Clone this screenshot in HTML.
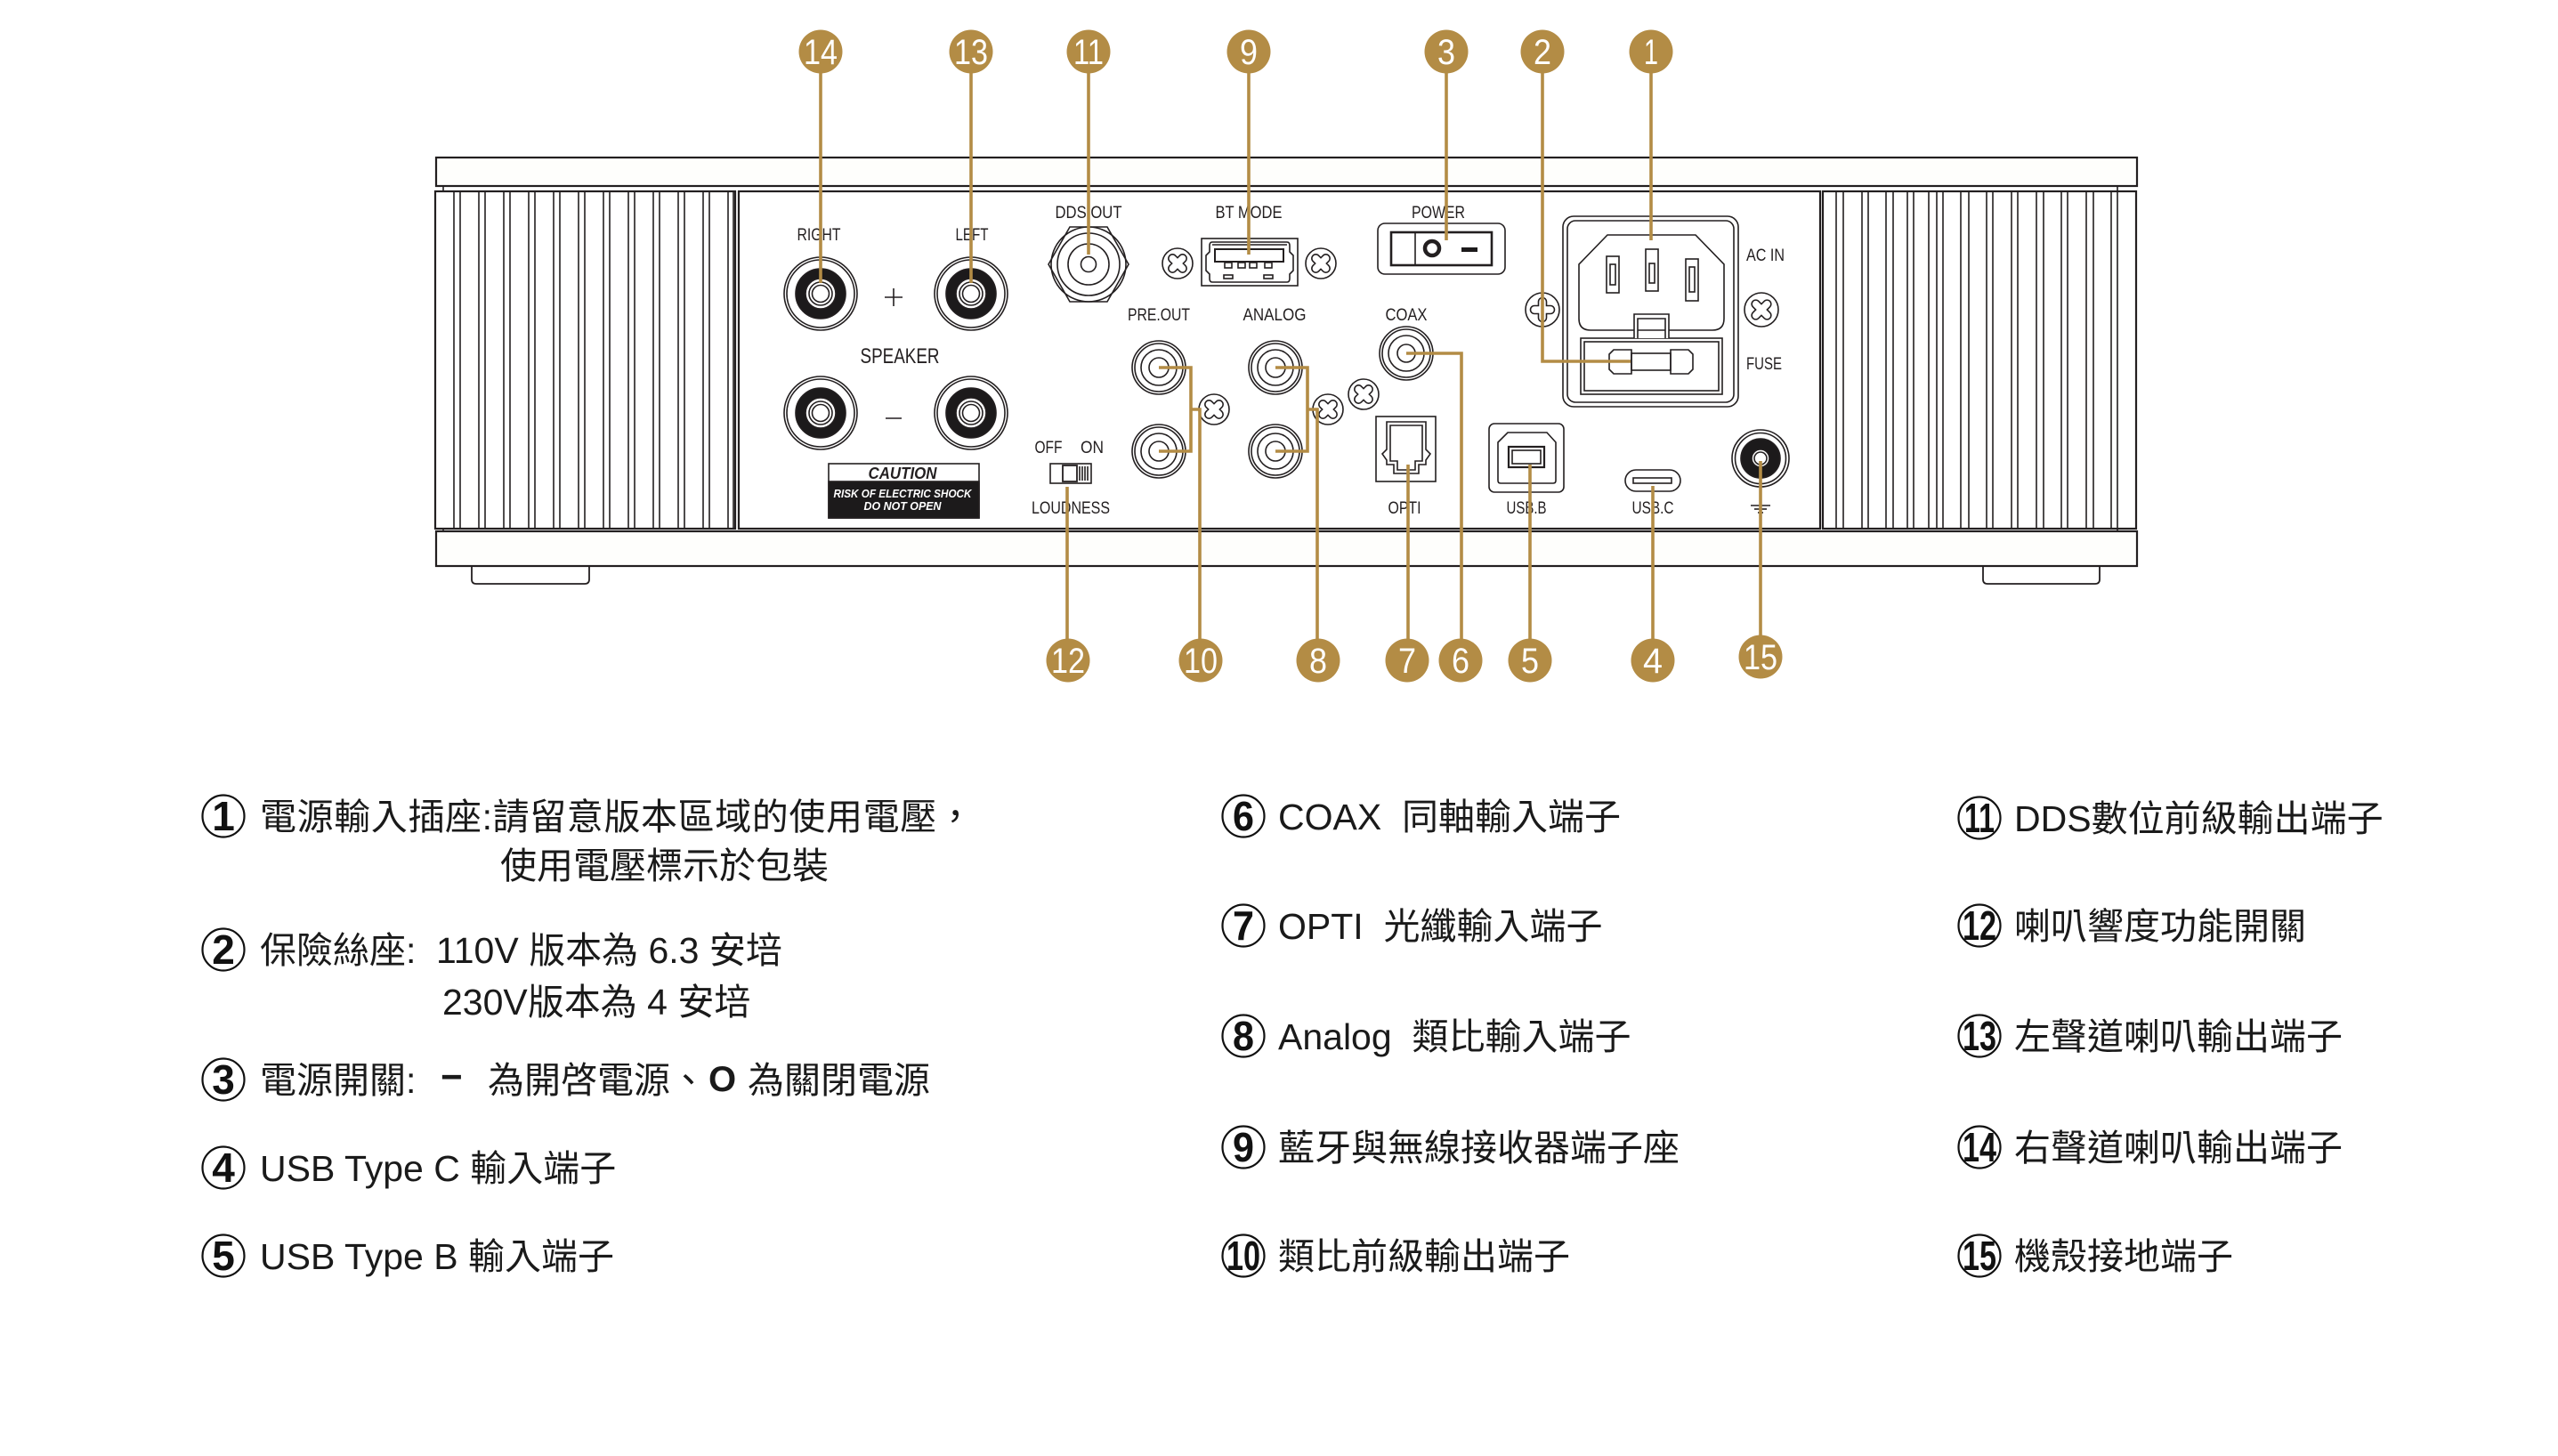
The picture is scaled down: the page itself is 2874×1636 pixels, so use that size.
<!DOCTYPE html>
<html><head><meta charset="utf-8"><style>
html,body{margin:0;padding:0;background:#fff;}
svg{display:block;}
.pl{font-family:"Liberation Sans",sans-serif;fill:#231f20;font-size:19px;text-anchor:middle;}
.lg{font-family:"Liberation Sans","Noto Sans CJK TC",sans-serif;fill:#1a1a1a;font-size:41px;white-space:pre;}
.bd{font-family:"Liberation Sans",sans-serif;fill:#fff;font-size:40px;text-anchor:middle;}
.cn{font-family:"Liberation Sans",sans-serif;fill:#111;font-size:46px;font-weight:bold;text-anchor:middle;}
</style></head><body>
<svg width="2874" height="1636" viewBox="0 0 2874 1636" xmlns="http://www.w3.org/2000/svg">
<rect width="2874" height="1636" fill="#fff"/>
<!-- cabinet -->
<g fill="#fefefc" stroke="#231f20" stroke-width="2.2">
<rect x="490" y="177" width="1911" height="32"/>
<rect x="490" y="597" width="1911" height="39"/>
<path d="M530,636 L530,651 Q530,656 535,656 L657,656 Q662,656 662,651 L662,636" fill="none" stroke-width="1.8"/>
<path d="M2228,636 L2228,651 Q2228,656 2233,656 L2354,656 Q2359,656 2359,651 L2359,636" fill="none" stroke-width="1.8"/>
<rect x="489" y="215" width="337" height="379" fill="#fff"/>
<rect x="830" y="215" width="1215" height="379" fill="#fff"/>
<rect x="2048" y="215" width="352" height="379" fill="#fff"/>
</g>
<g stroke="#231f20" stroke-width="1.6">
<line x1="498" y1="209" x2="498" y2="215"/><line x1="498" y1="594" x2="498" y2="597"/>
<line x1="2379" y1="209" x2="2379" y2="597"/>
<!-- left fins -->
<line x1="510" y1="215" x2="510" y2="594"/><line x1="517" y1="215" x2="517" y2="594"/>
<line x1="538" y1="215" x2="538" y2="594"/><line x1="545" y1="215" x2="545" y2="594"/>
<line x1="566" y1="215" x2="566" y2="594"/><line x1="573" y1="215" x2="573" y2="594"/>
<line x1="594" y1="215" x2="594" y2="594"/><line x1="601" y1="215" x2="601" y2="594"/>
<line x1="622" y1="215" x2="622" y2="594"/><line x1="629" y1="215" x2="629" y2="594"/>
<line x1="650" y1="215" x2="650" y2="594"/><line x1="657" y1="215" x2="657" y2="594"/>
<line x1="678" y1="215" x2="678" y2="594"/><line x1="685" y1="215" x2="685" y2="594"/>
<line x1="706" y1="215" x2="706" y2="594"/><line x1="713" y1="215" x2="713" y2="594"/>
<line x1="734" y1="215" x2="734" y2="594"/><line x1="741" y1="215" x2="741" y2="594"/>
<line x1="762" y1="215" x2="762" y2="594"/><line x1="769" y1="215" x2="769" y2="594"/>
<line x1="790" y1="215" x2="790" y2="594"/><line x1="797" y1="215" x2="797" y2="594"/>
<line x1="818" y1="215" x2="818" y2="594"/><line x1="824" y1="215" x2="824" y2="594"/>
<!-- right fins -->
<line x1="2063" y1="215" x2="2063" y2="594"/><line x1="2071" y1="215" x2="2071" y2="594"/>
<line x1="2092" y1="215" x2="2092" y2="594"/><line x1="2099" y1="215" x2="2099" y2="594"/>
<line x1="2119" y1="215" x2="2119" y2="594"/><line x1="2127" y1="215" x2="2127" y2="594"/>
<line x1="2143" y1="215" x2="2143" y2="594"/><line x1="2150" y1="215" x2="2150" y2="594"/>
<line x1="2167" y1="215" x2="2167" y2="594"/><line x1="2176" y1="215" x2="2176" y2="594"/>
<line x1="2183" y1="215" x2="2183" y2="594"/>
<line x1="2203" y1="215" x2="2203" y2="594"/><line x1="2212" y1="215" x2="2212" y2="594"/>
<line x1="2232" y1="215" x2="2232" y2="594"/><line x1="2239" y1="215" x2="2239" y2="594"/>
<line x1="2260" y1="215" x2="2260" y2="594"/><line x1="2267" y1="215" x2="2267" y2="594"/>
<line x1="2288" y1="215" x2="2288" y2="594"/><line x1="2296" y1="215" x2="2296" y2="594"/>
<line x1="2316" y1="215" x2="2316" y2="594"/><line x1="2323" y1="215" x2="2323" y2="594"/>
<line x1="2344" y1="215" x2="2344" y2="594"/><line x1="2352" y1="215" x2="2352" y2="594"/>
<line x1="2372" y1="215" x2="2372" y2="594"/>
</g>

<!-- speaker binding posts -->
<g stroke="#231f20" stroke-width="1.6" fill="none">
<g transform="translate(922,330)"><circle r="41"/><circle r="38"/><circle r="28" fill="#1c1a1b"/><circle r="17" fill="#fff"/><circle r="13"/><circle r="9.5"/></g>
<g transform="translate(1091,330)"><circle r="41"/><circle r="38"/><circle r="28" fill="#1c1a1b"/><circle r="17" fill="#fff"/><circle r="13"/><circle r="9.5"/></g>
<g transform="translate(922,464)"><circle r="41"/><circle r="38"/><circle r="28" fill="#1c1a1b"/><circle r="17" fill="#fff"/><circle r="13"/><circle r="9.5"/></g>
<g transform="translate(1091,464)"><circle r="41"/><circle r="38"/><circle r="28" fill="#1c1a1b"/><circle r="17" fill="#fff"/><circle r="13"/><circle r="9.5"/></g>
<line x1="994" y1="334" x2="1014" y2="334"/><line x1="1004" y1="324" x2="1004" y2="344"/>
<line x1="995" y1="470" x2="1013" y2="470"/>
<!-- caution -->
<rect x="931" y="521" width="169" height="61" fill="#fff"/>
<rect x="931" y="541" width="169" height="41" fill="#1c1a1b"/>
<!-- DDS OUT -->
<polygon points="1178,297 1202,255 1244,255 1268,297 1244,339 1202,339"/>
<circle cx="1223" cy="297" r="42"/><circle cx="1223" cy="297" r="35"/><circle cx="1223" cy="297" r="23"/><circle cx="1223" cy="297" r="8.5"/>
<!-- USB A -->
<rect x="1350" y="268" width="108" height="53"/>
<path d="M1362,272 L1446,272 Q1449,272 1449,276 L1449,283 L1453,287 L1453,304 L1449,308 L1449,313 Q1449,317 1446,317 L1362,317 Q1359,317 1359,313 L1359,308 L1355,304 L1355,287 L1359,283 L1359,276 Q1359,272 1362,272 Z"/>
<line x1="1362" y1="275" x2="1446" y2="275"/>
<rect x="1365" y="280" width="77" height="14" stroke-width="2"/>
<rect x="1376" y="295" width="8" height="6"/><rect x="1391" y="295" width="8" height="6"/><rect x="1404" y="295" width="8" height="6"/><rect x="1421" y="295" width="8" height="6"/>
<rect x="1375" y="309" width="10" height="4"/><rect x="1420" y="309" width="10" height="4"/>
<!-- POWER -->
<rect x="1548" y="251" width="143" height="57" rx="8"/>
<rect x="1563" y="261" width="113" height="37" stroke-width="2.6"/>
<line x1="1590" y1="261" x2="1590" y2="298"/>
<circle cx="1609" cy="279" r="8" stroke-width="4.5"/>
<!-- RCA -->
<g transform="translate(1302,413)"><circle r="30"/><circle r="27"/><circle r="20"/><circle r="11"/></g>
<g transform="translate(1302,507)"><circle r="30"/><circle r="27"/><circle r="20"/><circle r="11"/></g>
<g transform="translate(1433,413)"><circle r="30"/><circle r="27"/><circle r="20"/><circle r="11"/></g>
<g transform="translate(1433,507)"><circle r="30"/><circle r="27"/><circle r="20"/><circle r="11"/></g>
<g transform="translate(1580,397)"><circle r="30"/><circle r="27"/><circle r="20"/><circle r="10"/></g>
<!-- OPTI -->
<rect x="1546" y="468" width="67" height="73"/>
<path d="M1558,474 L1602,474 L1602,505 L1607,510 L1602,517 L1602,522 L1594,522 L1594,532 L1566,532 L1566,522 L1558,522 L1558,517 L1553,510 L1558,505 Z"/>
<path d="M1562,478 L1598,478 L1598,518 L1590,518 L1590,528 L1570,528 L1570,518 L1562,518 Z"/>
<!-- USB B -->
<rect x="1673" y="476" width="84" height="77" rx="6"/>
<path d="M1694,486 L1738,486 L1748,497 L1748,540 Q1748,543 1745,543 L1686,543 Q1683,543 1683,540 L1683,497 Z"/>
<rect x="1695" y="502" width="40" height="23" stroke-width="2.2"/>
<rect x="1699" y="506" width="32" height="15"/>
<!-- USB C -->
<rect x="1826" y="528" width="62" height="24" rx="12"/>
<rect x="1835" y="537" width="43" height="6"/>
<!-- ground -->
<g transform="translate(1978,515)"><circle r="32"/><circle r="28.5"/><circle r="22" fill="#1c1a1b"/><circle r="10" fill="#fff"/><circle r="7"/></g>
<line x1="1978" y1="558" x2="1978" y2="568"/>
<line x1="1967" y1="568" x2="1989" y2="568"/>
<line x1="1971" y1="572" x2="1985" y2="572"/>
<line x1="1975" y1="576" x2="1981" y2="576"/>
<!-- AC module -->
<rect x="1756" y="243" width="197" height="214" rx="12"/>
<rect x="1761" y="248" width="187" height="204" rx="9"/>
<path d="M1806,264 L1905,264 L1937,297 L1937,358 Q1937,371 1924,371 L1787,371 Q1774,371 1774,358 L1774,297 Z"/>
<rect x="1805" y="288" width="14" height="41"/><rect x="1809" y="297" width="6" height="23"/>
<rect x="1849" y="280" width="14" height="47"/><rect x="1853" y="296" width="6" height="22"/>
<rect x="1894" y="291" width="14" height="47"/><rect x="1898" y="300" width="6" height="28"/>
<rect x="1776" y="380" width="159" height="63" fill="#fff"/>
<rect x="1780" y="384" width="151" height="55"/>
<path d="M1836,380 L1836,353 L1875,353 L1875,380" fill="#fff"/>
<path d="M1840,380 L1840,358 L1871,358 L1871,380"/>
<line x1="1840" y1="371" x2="1871" y2="371"/>
<path d="M1813,393 L1833,393 L1833,420 L1813,420 L1808,415 L1808,398 Z" fill="#fff"/>
<path d="M1877,393 L1897,393 L1902,398 L1902,415 L1897,420 L1877,420 Z" fill="#fff"/>
<rect x="1833" y="397" width="44" height="19"/>
<!-- OFF/ON switch -->
<rect x="1180" y="521" width="46" height="22"/>
<rect x="1194" y="523" width="16" height="18" stroke-width="1.8"/>
<line x1="1213" y1="524" x2="1213" y2="540"/><line x1="1216" y1="524" x2="1216" y2="540"/><line x1="1219" y1="524" x2="1219" y2="540"/><line x1="1222" y1="524" x2="1222" y2="540"/>
</g>
<rect x="1642" y="278" width="18" height="5" fill="#1c1a1b"/>

<!-- screws -->
<g stroke="#231f20" stroke-width="1.6" fill="#fff">
<g transform="translate(1323,296) rotate(45)"><circle r="17"/><path d="M-4.5,-8 A4.5,4.5 0 0 1 4.5,-8 L4.5,-4.5 L8,-4.5 A4.5,4.5 0 0 1 8,4.5 L4.5,4.5 L4.5,8 A4.5,4.5 0 0 1 -4.5,8 L-4.5,4.5 L-8,4.5 A4.5,4.5 0 0 1 -8,-4.5 L-4.5,-4.5 Z"/></g>
<g transform="translate(1484,296) rotate(45)"><circle r="17"/><path d="M-4.5,-8 A4.5,4.5 0 0 1 4.5,-8 L4.5,-4.5 L8,-4.5 A4.5,4.5 0 0 1 8,4.5 L4.5,4.5 L4.5,8 A4.5,4.5 0 0 1 -4.5,8 L-4.5,4.5 L-8,4.5 A4.5,4.5 0 0 1 -8,-4.5 L-4.5,-4.5 Z"/></g>
<g transform="translate(1364,460) rotate(45)"><circle r="17"/><path d="M-4.5,-8 A4.5,4.5 0 0 1 4.5,-8 L4.5,-4.5 L8,-4.5 A4.5,4.5 0 0 1 8,4.5 L4.5,4.5 L4.5,8 A4.5,4.5 0 0 1 -4.5,8 L-4.5,4.5 L-8,4.5 A4.5,4.5 0 0 1 -8,-4.5 L-4.5,-4.5 Z"/></g>
<g transform="translate(1492,460) rotate(45)"><circle r="17"/><path d="M-4.5,-8 A4.5,4.5 0 0 1 4.5,-8 L4.5,-4.5 L8,-4.5 A4.5,4.5 0 0 1 8,4.5 L4.5,4.5 L4.5,8 A4.5,4.5 0 0 1 -4.5,8 L-4.5,4.5 L-8,4.5 A4.5,4.5 0 0 1 -8,-4.5 L-4.5,-4.5 Z"/></g>
<g transform="translate(1532,443) rotate(45)"><circle r="17"/><path d="M-4.5,-8 A4.5,4.5 0 0 1 4.5,-8 L4.5,-4.5 L8,-4.5 A4.5,4.5 0 0 1 8,4.5 L4.5,4.5 L4.5,8 A4.5,4.5 0 0 1 -4.5,8 L-4.5,4.5 L-8,4.5 A4.5,4.5 0 0 1 -8,-4.5 L-4.5,-4.5 Z"/></g>
<g transform="translate(1733,348)"><circle r="19"/><path d="M-4.5,-9 A4.5,4.5 0 0 1 4.5,-9 L4.5,-4.5 L9,-4.5 A4.5,4.5 0 0 1 9,4.5 L4.5,4.5 L4.5,9 A4.5,4.5 0 0 1 -4.5,9 L-4.5,4.5 L-9,4.5 A4.5,4.5 0 0 1 -9,-4.5 L-4.5,-4.5 Z"/></g>
<g transform="translate(1979,348) rotate(45)"><circle r="19"/><path d="M-4.5,-9 A4.5,4.5 0 0 1 4.5,-9 L4.5,-4.5 L9,-4.5 A4.5,4.5 0 0 1 9,4.5 L4.5,4.5 L4.5,9 A4.5,4.5 0 0 1 -4.5,9 L-4.5,4.5 L-9,4.5 A4.5,4.5 0 0 1 -9,-4.5 L-4.5,-4.5 Z"/></g>
</g>

<!-- panel labels -->
<text class="pl" x="920" y="270" textLength="49" lengthAdjust="spacingAndGlyphs">RIGHT</text>
<text class="pl" x="1092" y="270" textLength="37" lengthAdjust="spacingAndGlyphs">LEFT</text>
<text class="pl" x="1011" y="408" font-size="24" style="font-size:24px" textLength="89" lengthAdjust="spacingAndGlyphs">SPEAKER</text>
<text class="pl" x="1223" y="245" textLength="75" lengthAdjust="spacingAndGlyphs">DDS OUT</text>
<text class="pl" x="1403" y="245" textLength="75" lengthAdjust="spacingAndGlyphs">BT MODE</text>
<text class="pl" x="1616" y="245" textLength="60" lengthAdjust="spacingAndGlyphs">POWER</text>
<text class="pl" x="1302" y="360" textLength="70" lengthAdjust="spacingAndGlyphs">PRE.OUT</text>
<text class="pl" x="1432" y="360" textLength="71" lengthAdjust="spacingAndGlyphs">ANALOG</text>
<text class="pl" x="1580" y="360" textLength="47" lengthAdjust="spacingAndGlyphs">COAX</text>
<text class="pl" x="1962" y="293" style="text-anchor:start" textLength="43" lengthAdjust="spacingAndGlyphs">AC IN</text>
<text class="pl" x="1962" y="415" style="text-anchor:start" textLength="40" lengthAdjust="spacingAndGlyphs">FUSE</text>
<text class="pl" x="1178" y="509" textLength="31" lengthAdjust="spacingAndGlyphs">OFF</text>
<text class="pl" x="1227" y="509" textLength="26" lengthAdjust="spacingAndGlyphs">ON</text>
<text class="pl" x="1203" y="577" textLength="88" lengthAdjust="spacingAndGlyphs">LOUDNESS</text>
<text class="pl" x="1578" y="577" textLength="37" lengthAdjust="spacingAndGlyphs">OPTI</text>
<text class="pl" x="1715" y="577" textLength="45" lengthAdjust="spacingAndGlyphs">USB.B</text>
<text class="pl" x="1857" y="577" textLength="47" lengthAdjust="spacingAndGlyphs">USB.C</text>
<text class="pl" x="1014" y="538" style="font-size:18px" font-weight="bold" font-style="italic" textLength="77" lengthAdjust="spacingAndGlyphs">CAUTION</text>
<text class="pl" x="1014" y="559" style="font-size:12.5px;fill:#fff" font-weight="bold" font-style="italic" textLength="155" lengthAdjust="spacingAndGlyphs">RISK OF ELECTRIC SHOCK</text>
<text class="pl" x="1014" y="573" style="font-size:12.5px;fill:#fff" font-weight="bold" font-style="italic" textLength="87" lengthAdjust="spacingAndGlyphs">DO NOT OPEN</text>

<!-- leader lines -->
<g stroke="#b38c45" stroke-width="3.6" fill="none" stroke-linejoin="miter">
<line x1="922" y1="80" x2="922" y2="318"/>
<line x1="1091" y1="80" x2="1091" y2="318"/>
<line x1="1223" y1="80" x2="1223" y2="286"/>
<line x1="1403" y1="80" x2="1403" y2="286"/>
<line x1="1625" y1="80" x2="1625" y2="270"/>
<polyline points="1733,80 1733,406 1832,406"/>
<line x1="1855" y1="80" x2="1855" y2="270"/>
<line x1="1199" y1="547" x2="1199" y2="720"/>
<polyline points="1302,413 1338,413 1338,507 1302,507"/>
<polyline points="1338,460 1348,460 1348,720"/>
<polyline points="1433,413 1469,413 1469,507 1433,507"/>
<polyline points="1469,460 1480,460 1480,720"/>
<line x1="1582" y1="522" x2="1582" y2="720"/>
<polyline points="1580,397 1642,397 1642,720"/>
<line x1="1719" y1="522" x2="1719" y2="720"/>
<line x1="1857" y1="546" x2="1857" y2="720"/>
<line x1="1978" y1="518" x2="1978" y2="716"/>
</g>

<!-- badges -->
<g fill="#b38c45">
<circle cx="922" cy="58" r="24.5"/><circle cx="1091" cy="58" r="24.5"/><circle cx="1223" cy="58" r="24.5"/><circle cx="1403" cy="58" r="24.5"/><circle cx="1625" cy="58" r="24.5"/><circle cx="1733" cy="58" r="24.5"/><circle cx="1855" cy="58" r="24.5"/>
<circle cx="1200" cy="742" r="24.5"/><circle cx="1349" cy="742" r="24.5"/><circle cx="1481" cy="742" r="24.5"/><circle cx="1581" cy="742" r="24.5"/><circle cx="1641" cy="742" r="24.5"/><circle cx="1719" cy="742" r="24.5"/><circle cx="1857" cy="742" r="24.5"/><circle cx="1978" cy="738" r="24.5"/>
</g>
<text class="bd" x="922" y="72" textLength="38" lengthAdjust="spacingAndGlyphs">14</text>
<text class="bd" x="1091" y="72" textLength="38" lengthAdjust="spacingAndGlyphs">13</text>
<text class="bd" x="1223" y="72" textLength="34" lengthAdjust="spacingAndGlyphs">11</text>
<text class="bd" x="1403" y="72" textLength="20" lengthAdjust="spacingAndGlyphs">9</text>
<text class="bd" x="1625" y="72" textLength="20" lengthAdjust="spacingAndGlyphs">3</text>
<text class="bd" x="1733" y="72" textLength="20" lengthAdjust="spacingAndGlyphs">2</text>
<text class="bd" x="1855" y="72" textLength="16" lengthAdjust="spacingAndGlyphs">1</text>
<text class="bd" x="1200" y="756" textLength="38" lengthAdjust="spacingAndGlyphs">12</text>
<text class="bd" x="1349" y="756" textLength="38" lengthAdjust="spacingAndGlyphs">10</text>
<text class="bd" x="1481" y="756" textLength="20" lengthAdjust="spacingAndGlyphs">8</text>
<text class="bd" x="1581" y="756" textLength="20" lengthAdjust="spacingAndGlyphs">7</text>
<text class="bd" x="1641" y="756" textLength="20" lengthAdjust="spacingAndGlyphs">6</text>
<text class="bd" x="1719" y="756" textLength="20" lengthAdjust="spacingAndGlyphs">5</text>
<text class="bd" x="1857" y="756" textLength="22" lengthAdjust="spacingAndGlyphs">4</text>
<text class="bd" x="1978" y="752" textLength="38" lengthAdjust="spacingAndGlyphs">15</text>

<!-- legend circles -->
<g fill="none" stroke="#111" stroke-width="2.2">
<circle cx="251" cy="917" r="23.5"/><circle cx="251" cy="1067" r="23.5"/><circle cx="251" cy="1213" r="23.5"/><circle cx="251" cy="1312" r="23.5"/><circle cx="251" cy="1411" r="23.5"/>
<circle cx="1397" cy="917" r="23.5"/><circle cx="1397" cy="1040" r="23.5"/><circle cx="1397" cy="1164" r="23.5"/><circle cx="1397" cy="1289" r="23.5"/><circle cx="1397" cy="1411" r="23.5"/>
<circle cx="2224" cy="919" r="23.5"/><circle cx="2224" cy="1040" r="23.5"/><circle cx="2224" cy="1164" r="23.5"/><circle cx="2224" cy="1289" r="23.5"/><circle cx="2224" cy="1411" r="23.5"/>
</g>
<text class="cn" x="251" y="933">1</text>
<text class="cn" x="251" y="1083">2</text>
<text class="cn" x="251" y="1229">3</text>
<text class="cn" x="251" y="1328">4</text>
<text class="cn" x="251" y="1427">5</text>
<text class="cn" x="1397" y="933" textLength="24" lengthAdjust="spacingAndGlyphs">6</text>
<text class="cn" x="1397" y="1056" textLength="24" lengthAdjust="spacingAndGlyphs">7</text>
<text class="cn" x="1397" y="1180" textLength="24" lengthAdjust="spacingAndGlyphs">8</text>
<text class="cn" x="1397" y="1305" textLength="24" lengthAdjust="spacingAndGlyphs">9</text>
<text class="cn" x="1397" y="1427" textLength="38" lengthAdjust="spacingAndGlyphs">10</text>
<text class="cn" x="2224" y="935" textLength="34" lengthAdjust="spacingAndGlyphs">11</text>
<text class="cn" x="2224" y="1056" textLength="38" lengthAdjust="spacingAndGlyphs">12</text>
<text class="cn" x="2224" y="1180" textLength="38" lengthAdjust="spacingAndGlyphs">13</text>
<text class="cn" x="2224" y="1305" textLength="38" lengthAdjust="spacingAndGlyphs">14</text>
<text class="cn" x="2224" y="1427" textLength="38" lengthAdjust="spacingAndGlyphs">15</text>

<!-- legend text -->
<text class="lg" x="292" y="932" letter-spacing="0.6">電源輸入插座:請留意版本區域的使用電壓，</text>
<text class="lg" x="562" y="987">使用電壓標示於包裝</text>
<text class="lg" x="292" y="1082">保險絲座:</text>
<text class="lg" x="490" y="1082">110V 版本為 6.3 安培</text>
<text class="lg" x="497" y="1140">230V版本為 4 安培</text>
<text class="lg" x="292" y="1228">電源開關:</text>
<text class="lg" x="495" y="1224" font-weight="bold" style="font-size:42px">−</text>
<text class="lg" x="548" y="1228">為開啓電源、</text>
<text class="lg" x="796" y="1226" font-weight="bold" style="font-size:40px">O</text>
<text class="lg" x="840" y="1228">為關閉電源</text>
<text class="lg" x="292" y="1327">USB Type C 輸入端子</text>
<text class="lg" x="292" y="1426">USB Type B 輸入端子</text>

<text class="lg" x="1436" y="932">COAX  同軸輸入端子</text>
<text class="lg" x="1436" y="1055">OPTI  光纖輸入端子</text>
<text class="lg" x="1436" y="1179">Analog  類比輸入端子</text>
<text class="lg" x="1436" y="1304">藍牙與無線接收器端子座</text>
<text class="lg" x="1436" y="1426">類比前級輸出端子</text>

<text class="lg" x="2263" y="934">DDS數位前級輸出端子</text>
<text class="lg" x="2263" y="1055">喇叭響度功能開關</text>
<text class="lg" x="2263" y="1179">左聲道喇叭輸出端子</text>
<text class="lg" x="2263" y="1304">右聲道喇叭輸出端子</text>
<text class="lg" x="2263" y="1426">機殼接地端子</text>
</svg>
</body></html>
